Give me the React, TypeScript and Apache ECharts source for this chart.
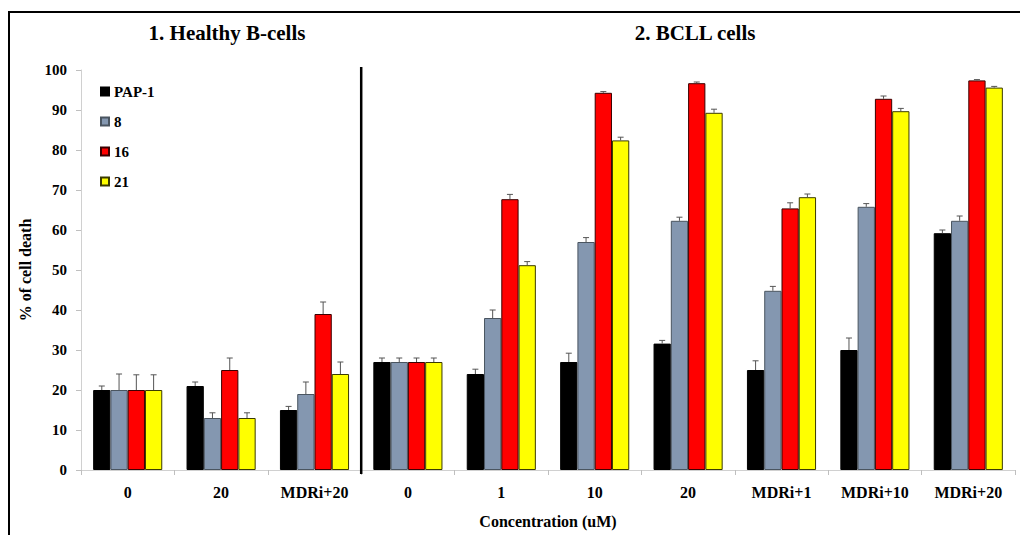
import React, { useEffect, useRef } from "react";
import * as echarts from "echarts";

const categories = ["0", "20", "MDRi+20", "0", "1", "10", "20", "MDRi+1", "MDRi+10", "MDRi+20"];
const seriesNames = ["PAP-1", "8", "16", "21"];
const pap1 = [20, 21, 15, 27, 24, 27, 31.6, 25, 30, 59.2];
const c8 = [20, 13, 19, 27, 38, 57, 62.3, 44.8, 65.8, 62.3];
const c16 = [20, 25, 39, 27, 67.7, 94.3, 96.7, 65.4, 92.8, 97.4];
const c21 = [20, 13, 24, 27, 51.2, 82.4, 89.3, 68.2, 89.7, 95.6];
const errPap1 = [1, 1, 0.9, 1, 1.2, 2.2, 0.8, 2.3, 3, 0.8];
const err8 = [4, 1.3, 3, 1, 2, 1.1, 0.9, 1.1, 0.8, 1.2];
const err16 = [3.8, 3, 3, 1, 1.2, 0.3, 0.3, 1.4, 0.7, 0.2];
const err21 = [3.8, 1.3, 3, 1, 0.9, 0.8, 0.9, 0.8, 0.7, 0.3];
const yTicks = { min: 0, max: 100, interval: 10 };
const titles = ["1. Healthy B-cells", "2. BCLL cells"];

const FONT = "Liberation Serif";
const colors = ["#000000", "#8497B0", "#FF0000", "#FFFF00"];
const borders = ["#000000", "#4a5560", "#3a0000", "#3a3a00"];
const GAP = 0.26;

export default function App() {
  const ref = useRef<HTMLDivElement>(null);
  useEffect(() => {
    if (!ref.current) return;
    const chart = echarts.init(ref.current, null, { renderer: "svg" });
    const values = [pap1, c8, c16, c21];
    const errs = [errPap1, err8, err16, err21];

    const barSeries = values.map((v, s) => ({
      type: "bar",
      name: seriesNames[s],
      data: v,
      barGap: "0%",
      barCategoryGap: GAP * 100 + "%",
      itemStyle: { color: colors[s], borderColor: borders[s], borderWidth: 1 },
      z: 2,
    }));

    const errSeries = values.map((v, s) => ({
      type: "custom",
      name: "err" + s,
      data: v.map((val, i) => [i, val, errs[s][i]]),
      encode: { x: 0, y: 1 },
      z: 5,
      silent: true,
      renderItem: (params: any, api: any) => {
        const i = api.value(0);
        const val = api.value(1);
        const e = api.value(2);
        const base = api.coord([i, val]);
        const top = api.coord([i, val + e]);
        const cat = api.size([1, 0])[0];
        const bw = (cat * (1 - GAP)) / 4;
        const cx = base[0] + (s - 1.5) * bw;
        const st = { stroke: "#555555", lineWidth: 1 };
        return {
          type: "group",
          children: [
            { type: "line", shape: { x1: cx, y1: base[1], x2: cx, y2: top[1] }, style: st },
            { type: "line", shape: { x1: cx - 3, y1: top[1], x2: cx + 3, y2: top[1] }, style: st },
          ],
        };
      },
    }));

    const tStyle = { fontFamily: FONT, fontWeight: "bold", fontSize: 21, color: "#000" };
    chart.setOption({
      animation: false,
      textStyle: { fontFamily: FONT },
      title: [
        { text: titles[0], left: 222, top: 17, textAlign: "center", textStyle: tStyle },
        { text: titles[1], left: 690, top: 17, textAlign: "center", textStyle: tStyle },
      ],
      legend: {
        data: seriesNames,
        orient: "vertical",
        left: 100,
        top: 84,
        padding: 0,
        itemGap: 15,
        itemWidth: 8,
        itemHeight: 8,
        icon: "rect",
        textStyle: { fontFamily: FONT, fontWeight: "bold", fontSize: 15, color: "#000" },
      },
      grid: { left: 81, right: 5, top: 70, bottom: 65 },
      xAxis: {
        type: "category",
        data: categories,
        name: "Concentration (uM)",
        nameLocation: "middle",
        nameGap: 43,
        nameTextStyle: { fontFamily: FONT, fontWeight: "bold", fontSize: 16, color: "#000" },
        axisLine: { lineStyle: { color: "#d0d0d0", width: 1 } },
        axisTick: { show: true, length: 5, lineStyle: { color: "#bfbfbf" } },
        axisLabel: { fontFamily: FONT, fontWeight: "bold", fontSize: 16, color: "#000", margin: 14 },
      },
      yAxis: {
        type: "value",
        min: yTicks.min,
        max: yTicks.max,
        interval: yTicks.interval,
        name: "% of cell death",
        nameLocation: "middle",
        nameGap: 41,
        nameRotate: 90,
        nameTextStyle: { fontFamily: FONT, fontWeight: "bold", fontSize: 16, color: "#000" },
        axisLine: { show: true, lineStyle: { color: "#d0d0d0", width: 1 } },
        axisTick: { show: true, length: 5, lineStyle: { color: "#bfbfbf" } },
        splitLine: { show: false },
        axisLabel: { fontFamily: FONT, fontWeight: "bold", fontSize: 15, color: "#000", margin: 14 },
      },
      series: [...barSeries, ...errSeries],
    });

    const p2 = chart.convertToPixel({ xAxisIndex: 0 }, 2) as number;
    const p3 = chart.convertToPixel({ xAxisIndex: 0 }, 3) as number;
    const dx = (p2 + p3) / 2;
    chart.setOption({
      graphic: [
        {
          type: "polyline",
          shape: { points: [[9, 540], [9, 12], [1030, 12]] },
          style: { stroke: "#000", lineWidth: 2, fill: "none" },
          z: 10,
        },
        {
          type: "line",
          shape: { x1: dx, y1: 67, x2: dx, y2: 474 },
          style: { stroke: "#000", lineWidth: 2.5 },
          z: 10,
        },
      ],
    });

    return () => chart.dispose();
  }, []);
  return <div ref={ref} style={{ width: 1020, height: 535, position: "absolute", left: 0, top: 0 }} />;
}
